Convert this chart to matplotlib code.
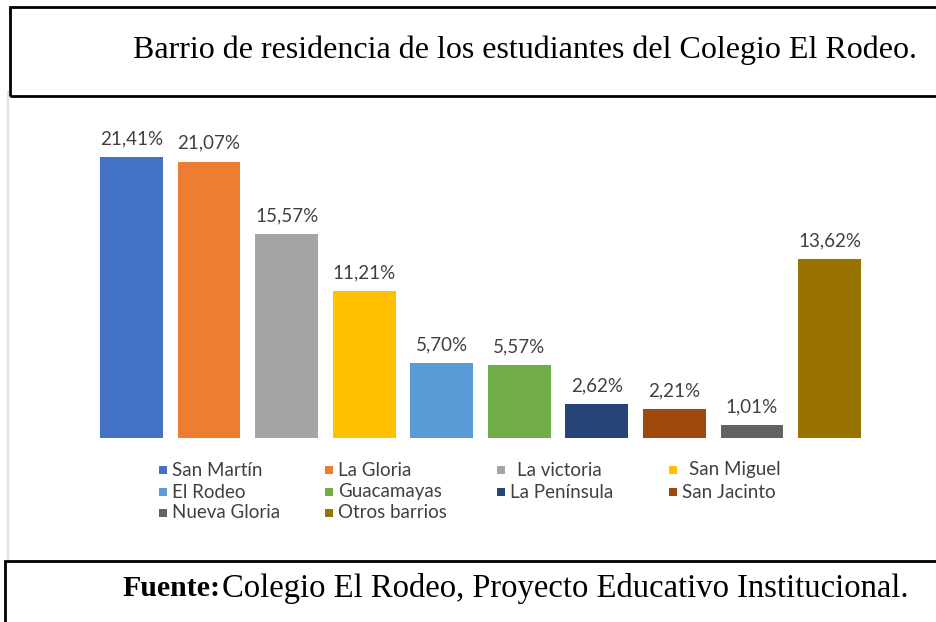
import matplotlib.pyplot as plt
from matplotlib.patches import Rectangle
from matplotlib.lines import Line2D

# datos
barrios = ["San Martín", "La Gloria", "La victoria", "San Miguel", "El Rodeo",
           "Guacamayas", "La Península", "San Jacinto", "Nueva Gloria", "Otros barrios"]
porcentajes = [21.41, 21.07, 15.57, 11.21, 5.70, 5.57, 2.62, 2.21, 1.01, 13.62]
colores = ["#4472C4", "#ED7D31", "#A5A5A5", "#FFC000", "#5B9BD5",
           "#70AD47", "#264478", "#9E480E", "#636363", "#997300"]

W, H = 937, 622
fig = plt.figure(figsize=(W / 100, H / 100), dpi=100)

def fx(px):
    return px / W

def fy(py):
    return 1 - py / H

# marcos de titulo y fuente
fig.patches.append(Rectangle((fx(10), fy(96)), fx(940) - fx(10), fy(7) - fy(96),
                             transform=fig.transFigure, fill=False, lw=2, ec="black"))
fig.patches.append(Rectangle((fx(5), fy(640)), fx(940) - fx(5), fy(561) - fy(640),
                             transform=fig.transFigure, fill=False, lw=2, ec="black"))
fig.lines.append(Line2D([fx(8.5), fx(8.5)], [fy(92), fy(559)], transform=fig.transFigure,
                        color="#e0e0e0", lw=1.5))

fig.text(fx(133), fy(50), "Barrio de residencia de los estudiantes del Colegio El Rodeo.",
         family="Liberation Serif", fontsize=23, ha="left", va="center")
fig.text(fx(122), fy(589), "Fuente:", family="Liberation Serif", fontsize=21.5,
         fontweight="bold", ha="left", va="center")
fig.text(fx(222), fy(589), "Colegio El Rodeo, Proyecto Educativo Institucional.",
         family="Liberation Serif", fontsize=23.5, ha="left", va="center")

# barras
step = 77.56
left = 131.5 - 0.6 * step
right = 829.5 + 0.6 * step
ax = fig.add_axes([fx(left), fy(438), fx(right) - fx(left), fy(110) - fy(438)])
x = list(range(len(barrios)))
bars = ax.bar(x, porcentajes, width=0.81, color=colores)
ax.set_xlim(-0.6, 9.6)
ax.set_ylim(0, 25)
ax.axis("off")
for b, v in zip(bars, porcentajes):
    ax.annotate(f"{v:.2f}%".replace(".", ","), (b.get_x() + b.get_width() / 2, v),
                xytext=(0, 7), textcoords="offset points", ha="center", va="bottom",
                family="Lato", fontsize=13.5, color="#404040")

# leyenda
col_x = [159, 325, 497, 669]
row_y = [470, 492, 513]
for i, (name, c) in enumerate(zip(barrios, colores)):
    cx = col_x[i % 4]
    cy = row_y[i // 4]
    fig.patches.append(Rectangle((fx(cx), fy(cy + 4)), fx(8), fy(0) - fy(8),
                                 transform=fig.transFigure, color=c, lw=0))
    pad = 20 if name in ("La victoria", "San Miguel") else 13
    fig.text(fx(cx + pad), fy(cy), name, family="Lato", fontsize=13.5,
             color="#404040", ha="left", va="center")

fig.savefig("out.png", dpi=100, facecolor="white")
